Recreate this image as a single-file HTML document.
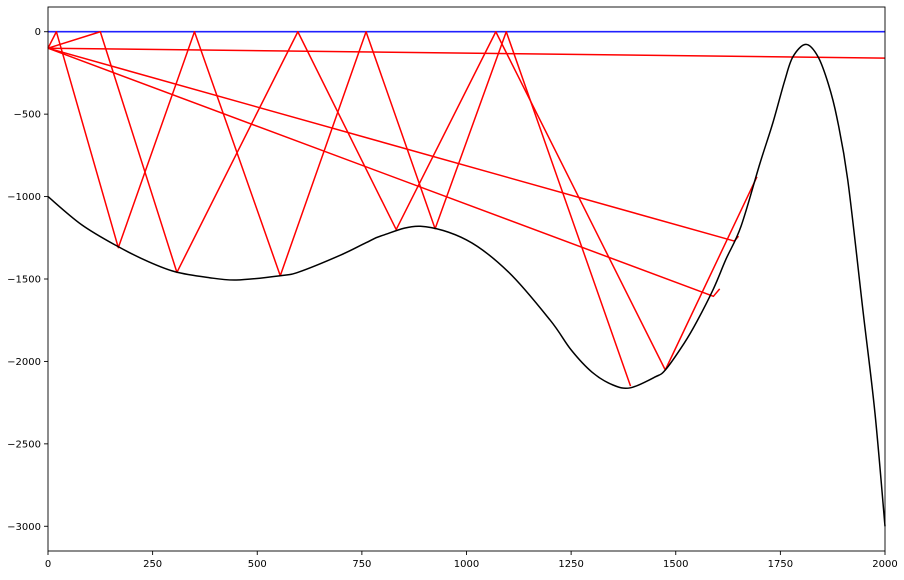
<!DOCTYPE html>
<html><head><meta charset="utf-8"><style>
html,body{margin:0;padding:0;background:#fff;}
svg text{font-family:"DejaVu Sans","Liberation Sans",sans-serif;font-size:10px;fill:#000;}
</style></head><body>
<svg id="chart" width="904" height="575" xmlns="http://www.w3.org/2000/svg"></svg>
<script>
const xTicks = [0,250,500,750,1000,1250,1500,1750,2000];
const yTicks = [0,-500,-1000,-1500,-2000,-2500,-3000];
const bottomX = [0,80,165,240,305,380,450,555,600,700,760,800,890,1000,1100,1200,1250,1300,1350,1392,1450,1475,1520,1550,1590,1620,1656,1701,1732,1760,1780,1811,1840,1865,1885,1911,1948,1976,2000];
const bottomY = [-1000,-1170,-1300,-1395,-1457,-1490,-1506,-1480,-1457,-1354,-1280,-1235,-1180,-1263,-1457,-1750,-1930,-2065,-2143,-2160,-2095,-2052,-1890,-1760,-1560,-1380,-1180,-800,-553,-300,-152,-77,-152,-320,-520,-899,-1706,-2313,-3000];
const surfaceX = [0,2000];
const surfaceY = [0,0];
const ray1X = [0,20,168,350,555,760,925,1095,1392];
const ray1Y = [-100,0,-1310,0,-1480,0,-1195,0,-2150];
const ray2X = [0,125,308,597,832,1070,1475,1694];
const ray2Y = [-100,0,-1460,0,-1200,0,-2052,-880];
const ray3X = [0,1590,1605];
const ray3Y = [-100,-1605,-1560];
const ray4X = [0,1640,1650];
const ray4Y = [-100,-1270,-1240];
const ray5X = [0,2000];
const ray5Y = [-100,-160];

const L=48,R=885,T=7,B=551;
const xMin=0,xMax=2000,yMin=-3150,yMax=150;
const sx=v=>L+(v-xMin)/(xMax-xMin)*(R-L);
const sy=v=>T+(yMax-v)/(yMax-yMin)*(B-T);
const NS="http://www.w3.org/2000/svg";
const svg=document.getElementById('chart');
function mk(tag,attrs){const e=document.createElementNS(NS,tag);for(const k in attrs)e.setAttribute(k,attrs[k]);svg.appendChild(e);return e;}
function line(xs,ys,color,name,w){
  const d=xs.map((x,i)=>(i?'L':'M')+sx(x).toFixed(2)+','+sy(ys[i]).toFixed(2)).join('');
  const p=mk('path',{d:d,fill:'none',stroke:color,'stroke-width':w||1.5,'stroke-linejoin':'round'});
  
  
}
function smooth(xs,ys,color,name){
  const P=xs.map((x,i)=>[sx(x),sy(ys[i])]);
  let d='M'+P[0][0].toFixed(2)+','+P[0][1].toFixed(2);
  for(let i=0;i<P.length-1;i++){
    const p0=P[Math.max(0,i-1)],p1=P[i],p2=P[i+1],p3=P[Math.min(P.length-1,i+2)];
    const c1=[p1[0]+(p2[0]-p0[0])/6,p1[1]+(p2[1]-p0[1])/6];
    const c2=[p2[0]-(p3[0]-p1[0])/6,p2[1]-(p3[1]-p1[1])/6];
    d+='C'+c1.map(v=>v.toFixed(2)).join(',')+' '+c2.map(v=>v.toFixed(2)).join(',')+' '+p2.map(v=>v.toFixed(2)).join(',');
  }
  const p=mk('path',{d:d,fill:'none',stroke:color,'stroke-width':1.5});
  
  
}
line(surfaceX,surfaceY,'#2020ff','surface-line',1.6);
line(ray1X,ray1Y,'#ff0000','ray-1');
line(ray2X,ray2Y,'#ff0000','ray-2');
line(ray3X,ray3Y,'#ff0000','ray-3');
line(ray4X,ray4Y,'#ff0000','ray-4');
line(ray5X,ray5Y,'#ff0000','ray-5');
smooth(bottomX,bottomY,'#000000','seabed-curve');
const frame=mk('rect',{x:L,y:T,width:R-L,height:B-T,fill:'none',stroke:'#000','stroke-width':0.9});


xTicks.forEach(v=>{
  const x=sx(v);
  const t=mk('line',{x1:x,x2:x,y1:B,y2:B+4,stroke:'#000','stroke-width':0.9});
  
  
  const tx=mk('text',{x:x,y:B+16,'text-anchor':'middle'});
  tx.textContent=v;
  
  
});
yTicks.forEach(v=>{
  const y=sy(v);
  const t=mk('line',{x1:L-4,x2:L,y1:y,y2:y,stroke:'#000','stroke-width':0.9});
  
  
  const tx=mk('text',{x:L-7,y:y+3.5,'text-anchor':'end'});
  tx.textContent=v===0?'0':'\u2212'+Math.abs(v);
  
  
});
</script>
</body></html>
